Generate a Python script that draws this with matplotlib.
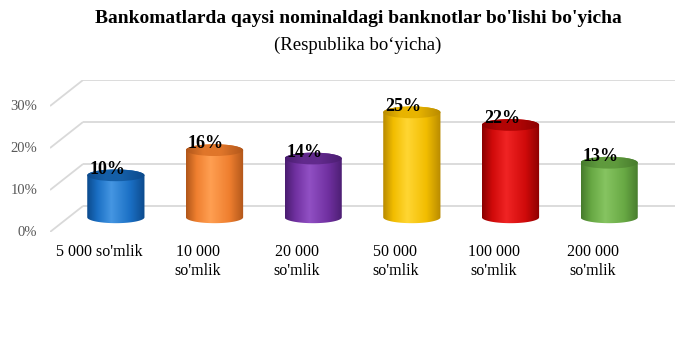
import numpy as np
import matplotlib
matplotlib.use("Agg")
import matplotlib.pyplot as plt
from matplotlib.path import Path
from matplotlib.patches import PathPatch, Ellipse
from matplotlib.colors import LinearSegmentedColormap

# ma'lumotlar
categories = ["5 000 so'mlik", "10 000\nso'mlik", "20 000\nso'mlik",
              "50 000\nso'mlik", "100 000\nso'mlik", "200 000\nso'mlik"]
values = [10, 16, 14, 25, 22, 13]
yticks = [0, 10, 20, 30]

# rang: (qora, asosiy, yorug')
colors = [("#0c4a8c", "#1a6fc4", "#4596e2"),
          ("#b0561a", "#ef7f2f", "#ff9f52"),
          ("#4a1d70", "#7030a0", "#9150c4"),
          ("#b88a00", "#f2bd00", "#ffd633"),
          ("#8a0000", "#d00a0a", "#f02424"),
          ("#467a2c", "#68a944", "#86c461")]
top_colors = ["#155fa8", "#e0762a", "#612a8c", "#e8b400", "#b30505", "#5f9a3d"]

plt.rcParams['font.family'] = ['Liberation Serif', 'DejaVu Serif']

fig = plt.figure(figsize=(6.8, 3.56), dpi=100)
ax = fig.add_axes([50 / 680, (356 - 232) / 356, 625 / 680, 152 / 356])
ax.set_axis_off()

# chuqurlik
dx, dy = 0.335, 6.2      # orqa devor siljishi
bx, by = 0.1675, 3.5     # ustunlar siljishi
w, eh = 0.58, 2.8        # ustun eni, ellips balandligi
x0, x1 = -0.5, 5.5
grid_c = "#d9d9d9"

for t in yticks:
    ax.plot([x0, x0 + dx], [t, t + dy], color=grid_c, lw=1.3, solid_capstyle='butt')
    ax.plot([x0 + dx, x1 + dx], [t + dy, t + dy], color=grid_c, lw=1.3, solid_capstyle='butt')
    ax.text(x0 - 0.13, t, f"{t}%", ha='right', va='center', fontsize=10.5, color="#595959")

grad = np.linspace(0, 1, 256).reshape(1, -1)

for i, (v, (dk, base, lt)) in enumerate(zip(values, colors)):
    c = i + bx
    left, right = c - w / 2, c + w / 2
    top = by + v
    th = np.linspace(np.pi, 2 * np.pi, 60)
    bot_x = c + w / 2 * np.cos(th)
    bot_y = by + eh / 2 * np.sin(th)
    th2 = np.linspace(0, np.pi, 60)
    tp_x = c + w / 2 * np.cos(th2)
    tp_y = top + eh / 2 * np.sin(th2)
    verts = np.concatenate([[[left, top]], np.column_stack([bot_x, bot_y]),
                            [[right, top]], np.column_stack([tp_x, tp_y])])
    path = Path(verts, closed=True)
    patch = PathPatch(path, facecolor='none', edgecolor='none')
    ax.add_patch(patch)
    cmap = LinearSegmentedColormap.from_list(
        f"c{i}", [(0, dk), (0.18, base), (0.42, lt), (0.75, base), (1, dk)])
    im = ax.imshow(grad, cmap=cmap, aspect='auto', interpolation='bilinear',
                   extent=[left, right, by - eh, top + eh], zorder=2)
    im.set_clip_path(patch)

    # tepa yuzasi
    el = Ellipse((c, top), w, eh, facecolor='none', edgecolor='none')
    ax.add_patch(el)
    cmap2 = LinearSegmentedColormap.from_list(
        f"t{i}", [(0, dk), (0.3, top_colors[i]), (0.6, top_colors[i]), (1, dk)])
    im2 = ax.imshow(grad, cmap=cmap2, aspect='auto', interpolation='bilinear',
                    extent=[left, right, top - eh, top + eh], zorder=3)
    im2.set_clip_path(el)

    ax.text(i + 0.08, v + 3.9, f"{v}%", ha='center', va='baseline',
            fontsize=13, fontweight='bold', color='black', zorder=5)
    ax.text(i, -2.8, categories[i], ha='center', va='top', fontsize=11.5,
            linespacing=1.25, color='black')

ax.set_xlim(x0, x1 + dx)
ax.set_ylim(0, 30 + dy)

fig.text(358 / 680, 1 - 23 / 356, "Bankomatlarda qaysi nominaldagi banknotlar bo'lishi bo'yicha",
         ha='center', va='baseline', fontsize=14, fontweight='bold')
fig.text(358 / 680, 1 - 50 / 356, "(Respublika bo\u2018yicha)",
         ha='center', va='baseline', fontsize=13.5)

fig.savefig("out.png", dpi=100)
